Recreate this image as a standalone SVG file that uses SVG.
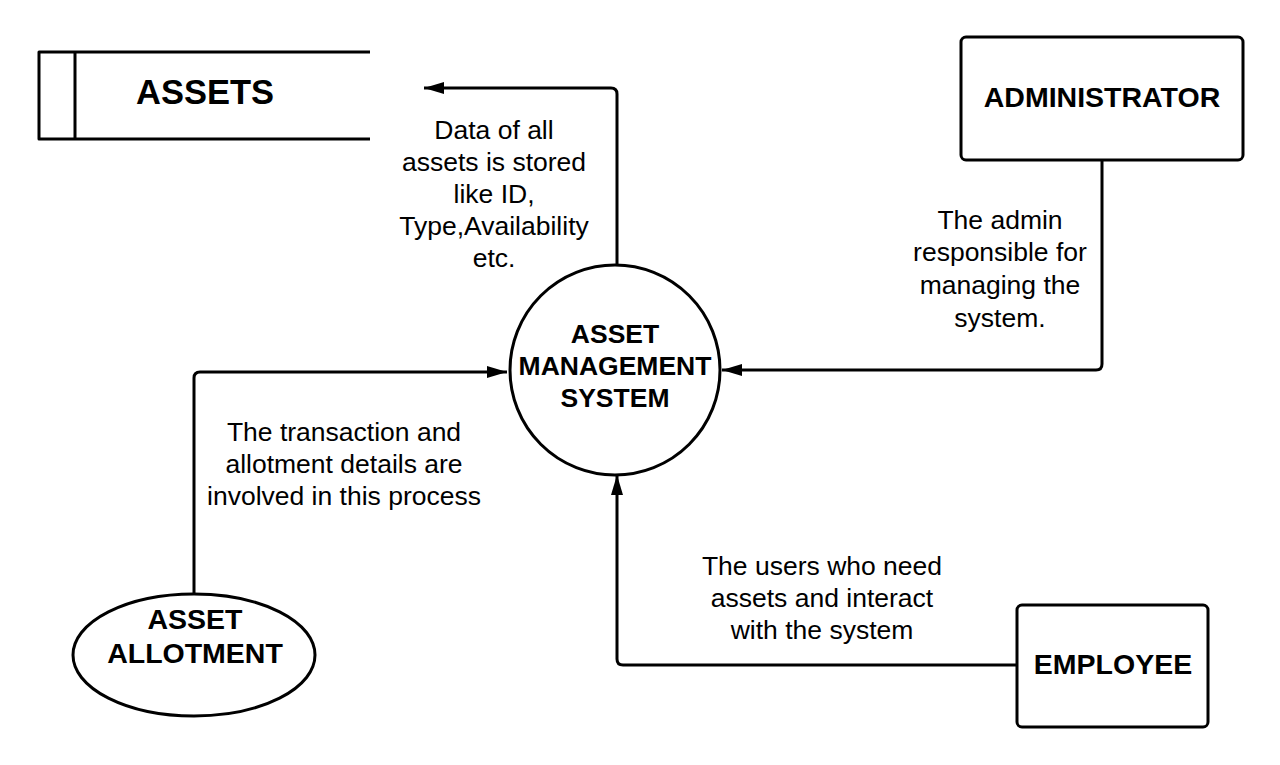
<svg xmlns="http://www.w3.org/2000/svg" width="1280" height="765" viewBox="0 0 1280 765">
<style>
.shape{fill:#fff;stroke:#000;stroke-width:3}
.line{fill:none;stroke:#000;stroke-width:3;stroke-linejoin:round}
.title{font-family:"Liberation Sans",Arial,sans-serif;font-weight:bold;font-size:28.5px;text-anchor:middle;fill:#000}
.label{font-family:"Liberation Sans",Arial,sans-serif;font-size:26.5px;text-anchor:middle;fill:#000}
</style>
<defs>
<marker id="ah" viewBox="0 0 20 12" refX="20" refY="6" markerWidth="20" markerHeight="12" markerUnits="userSpaceOnUse" orient="auto">
<path d="M0,0 L20,6 L0,12 z" fill="#000"/>
</marker>
</defs>
<rect width="1280" height="765" fill="#fff"/>
<g id="connectors">
<path class="line" d="M617,268 V94 Q617,88 611,88 H424" marker-end="url(#ah)"/>
<path class="line" d="M1102,160 V364 Q1102,370 1096,370 H722" marker-end="url(#ah)"/>
<path class="line" d="M194,594 V378 Q194,372 200,372 H507" marker-end="url(#ah)"/>
<path class="line" d="M1017,665 H623 Q617,665 617,659 V475" marker-end="url(#ah)"/>
</g>
<g id="assets">
<path class="line" d="M370,52 H39 V139 H370 M75,52 V139"/>
<text class="title" x="205" y="104" style="font-size:34.5px">ASSETS</text>
</g>
<g id="system">
<circle class="shape" cx="615" cy="370" r="105"/>
<text class="title" x="615" y="343" style="font-size:26.5px">ASSET</text>
<text class="title" x="615" y="375" style="font-size:26.5px">MANAGEMENT</text>
<text class="title" x="615" y="407" style="font-size:26.5px">SYSTEM</text>
</g>
<g id="administrator">
<rect class="shape" x="961" y="37" width="282" height="123" rx="5"/>
<text class="title" x="1102" y="107">ADMINISTRATOR</text>
</g>
<g id="allotment">
<ellipse class="shape" cx="194" cy="655" rx="121" ry="61"/>
<text class="title" x="195" y="629">ASSET</text>
<text class="title" x="195" y="663">ALLOTMENT</text>
</g>
<g id="employee">
<rect class="shape" x="1017" y="605" width="191" height="122" rx="5"/>
<text class="title" x="1113" y="674">EMPLOYEE</text>
</g>
<g id="labels">
<text class="label" x="494" y="139">Data of all</text>
<text class="label" x="494" y="171">assets is stored</text>
<text class="label" x="494" y="203">like ID,</text>
<text class="label" x="494" y="235">Type,Availability</text>
<text class="label" x="494" y="267">etc.</text>
<text class="label" x="1000" y="229">The admin</text>
<text class="label" x="1000" y="261">responsible for</text>
<text class="label" x="1000" y="294">managing the</text>
<text class="label" x="1000" y="327">system.</text>
<text class="label" x="344" y="441">The transaction and</text>
<text class="label" x="344" y="473">allotment details are</text>
<text class="label" x="344" y="505">involved in this process</text>
<text class="label" x="822" y="575">The users who need</text>
<text class="label" x="822" y="607">assets and interact</text>
<text class="label" x="822" y="639">with the system</text>
</g>
</svg>
